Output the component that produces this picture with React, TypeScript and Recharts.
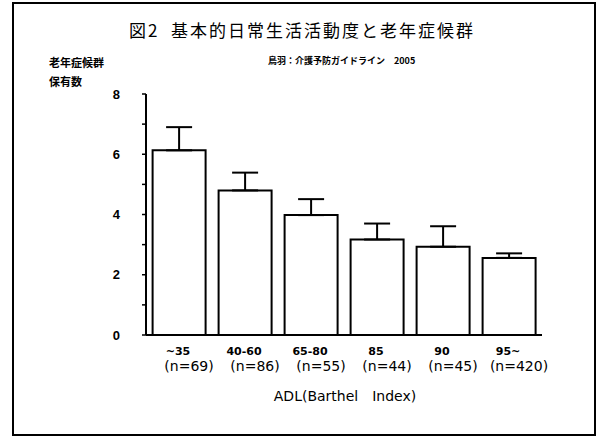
import { BarChart, Bar, XAxis, YAxis, ErrorBar } from "recharts";

const categories = ["~35", "40-60", "65-80", "85", "90", "95~"];
const sampleSizes = [69, 86, 55, 44, 45, 420];
const means = [6.13, 4.8, 3.98, 3.17, 2.93, 2.56];
const upperErrors = [0.77, 0.59, 0.53, 0.53, 0.68, 0.15];
const yTicks = [0, 1, 2, 3, 4, 5, 6, 7, 8];

const data = categories.map((c, i) => ({
  label: c,
  n: sampleSizes[i],
  value: means[i],
  err: [0, upperErrors[i]],
}));

const JP = '"Noto Sans CJK JP", sans-serif';

function XTick(props: any) {
  const { x, y, payload } = props;
  const d = data[payload.index];
  return (
    <g>
      <text x={x - 1} y={y + 20} textAnchor="middle" fontFamily="DejaVu Sans" fontWeight="bold" fontSize={11} fill="#000">
        {d.label}
      </text>
      <text x={x + 10} y={y + 36} textAnchor="middle" fontFamily="DejaVu Sans" fontSize={14} fill="#000">
        {`(n=${d.n})`}
      </text>
    </g>
  );
}

export default function App() {
  return (
    <div style={{ position: "absolute", left: 0, top: 0, width: 600, height: 441, background: "#fff" }}>
      <div
        style={{
          position: "absolute",
          left: 12,
          top: 2,
          width: 580,
          height: 430,
          border: "2.5px solid #000",
        }}
      />
      <div
        style={{
          position: "absolute",
          left: 0,
          width: 604,
          top: 21,
          textAlign: "center",
          fontFamily: JP,
          fontSize: 17,
          letterSpacing: 2,
          lineHeight: 1,
          whiteSpace: "pre",
        }}
      >
        {"図2  基本的日常生活活動度と老年症候群"}
      </div>
      <div style={{ position: "absolute", left: 49, top: 57, fontFamily: JP, fontWeight: "bold", fontSize: 11, lineHeight: 1 }}>
        老年症候群
      </div>
      <div style={{ position: "absolute", left: 49, top: 76, fontFamily: JP, fontWeight: "bold", fontSize: 11, lineHeight: 1 }}>
        保有数
      </div>
      <div
        style={{
          position: "absolute",
          left: 268,
          top: 56,
          fontFamily: JP,
          fontWeight: "bold",
          fontSize: 9,
          lineHeight: 1,
          whiteSpace: "pre",
        }}
      >
        {"鳥羽：介護予防ガイドライン　2005"}
      </div>
      <div
        style={{
          position: "absolute",
          left: 245,
          width: 200,
          top: 389,
          textAlign: "center",
          fontFamily: "DejaVu Sans",
          fontSize: 14,
          lineHeight: 1,
          whiteSpace: "pre",
        }}
      >
        {"ADL(Barthel　Index)"}
      </div>
      <div style={{ position: "absolute", left: 0, top: 0 }}>
        <BarChart
          width={600}
          height={441}
          data={data}
          margin={{ top: 94, right: 58, left: 96, bottom: 46 }}
          barCategoryGap="10%"
        >
          <XAxis
            dataKey="label"
            height={60}
            tickLine={false}
            tickSize={0}
            tickMargin={0}
            tick={<XTick />}
            axisLine={{ stroke: "#000", strokeWidth: 2 }}
            interval={0}
          />
          <YAxis
            width={50}
            domain={[0, 8]}
            ticks={yTicks}
            interval={0}
            tickSize={4}
            tickMargin={22}
            tickFormatter={(v: number) => (v % 2 === 0 ? String(v) : "")}
            tick={{ fontFamily: "Liberation Sans", fontWeight: "bold", fontSize: 13, fill: "#000" }}
            tickLine={{ stroke: "#000", strokeWidth: 1.5 }}
            axisLine={{ stroke: "#000", strokeWidth: 2 }}
          />
          <Bar dataKey="value" fill="#fff" stroke="#000" strokeWidth={2} isAnimationActive={false}>
            <ErrorBar dataKey="err" width={13} stroke="#000" strokeWidth={2} direction="y" />
          </Bar>
        </BarChart>
      </div>
    </div>
  );
}
